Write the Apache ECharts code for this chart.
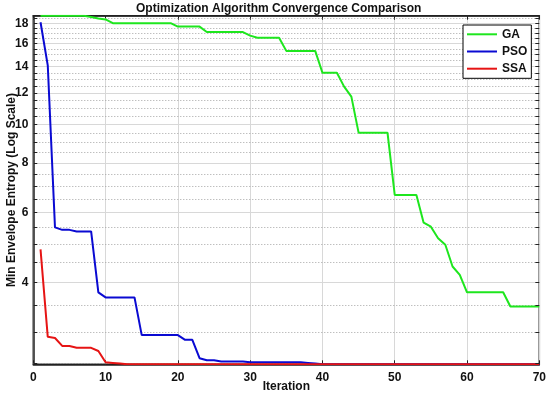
<!DOCTYPE html>
<html><head><meta charset="utf-8">
<script src="https://cdn.jsdelivr.net/npm/echarts@6/dist/echarts.min.js"></script>
<style>html,body{margin:0;padding:0;background:#fff}#c{width:550px;height:396px}</style>
</head><body><div id="c"></div>
<script>
const seriesNames = ['GA', 'PSO', 'SSA'];
const gaValues = [18.8,18.8,18.8,18.8,18.8,18.8,18.8,18.65,18.5,18.4,
  18.0,18.0,18.0,18.0,18.0,18.0,18.0,18.0,18.0,17.65,
  17.65,17.65,17.65,17.1,17.1,17.1,17.1,17.1,17.1,16.75,
  16.55,16.55,16.55,16.55,15.33,15.33,15.33,15.33,15.33,13.5,
  13.5,13.5,12.46,11.76,9.54,9.54,9.54,9.54,9.54,6.65,
  6.65,6.65,6.65,5.66,5.53,5.17,4.98,4.39,4.18,3.78,
  3.78,3.78,3.78,3.78,3.78,3.48,3.48,3.48,3.48,3.48];
const psoValues = [18.1,14.1,5.51,5.43,5.43,5.38,5.38,5.38,3.78,3.67,
  3.67,3.67,3.67,3.67,2.95,2.95,2.95,2.95,2.95,2.95,
  2.87,2.87,2.58,2.55,2.55,2.53,2.53,2.53,2.53,2.52,
  2.52,2.52,2.52,2.52,2.52,2.52,2.52,2.51,2.50,2.49,
  2.49,2.49,2.49,2.49,2.49,2.49,2.49,2.49,2.49,2.49,
  2.49,2.49,2.49,2.49,2.49,2.49,2.49,2.49,2.49,2.49,
  2.49,2.49,2.49,2.49,2.49,2.49,2.49,2.49,2.49,2.49];
const ssaValues = [4.85,2.92,2.90,2.77,2.77,2.74,2.74,2.74,2.69,2.52,
  2.51,2.50,2.49,2.49,2.49,2.49,2.49,2.49,2.49,2.49,
  2.49,2.49,2.49,2.49,2.49,2.49,2.49,2.49,2.49,2.49,
  2.49,2.49,2.49,2.49,2.49,2.49,2.49,2.49,2.49,2.49,
  2.49,2.49,2.49,2.49,2.49,2.49,2.49,2.49,2.49,2.49,
  2.49,2.49,2.49,2.49,2.49,2.49,2.49,2.49,2.49,2.49,
  2.49,2.49,2.49,2.49,2.49,2.49,2.49,2.49,2.49,2.49];
const xRange = [0, 70];
const xStep = 10;
const yRange = [2.49, 18.8];
const yMajorTicks = [4, 6, 8, 10, 12, 14, 16, 18];
const yMinorTicks = [2.5, 3, 3.5, 4.5, 5, 5.5, 6.5, 7, 7.5, 8.5, 9, 9.5, 10.5, 11, 11.5,
  12.5, 13, 13.5, 14.5, 15, 15.5, 16.5, 17, 17.5, 18.5];

const FONT = 'Liberation Sans, Arial, Helvetica, sans-serif';
const colors = ['#1ee61e', '#0a0ad2', '#e61414'];
const toPairs = arr => arr.map((v, i) => [i + 1, v]);

const gridMarks = [];
yMinorTicks.forEach(v => gridMarks.push({
  yAxis: v, lineStyle: { type: [1, 2], color: '#a4a4a4', width: 1 }, label: { show: false }
}));
yMajorTicks.forEach(v => gridMarks.push({
  yAxis: v, lineStyle: { type: 'solid', color: '#d8d8d8', width: 1 },
  label: { show: true, position: 'start', distance: 5, formatter: String(v),
    fontFamily: FONT, fontWeight: 'bold', fontSize: 12, color: '#111' }
}));
const tickLen = 0.55;
const tickMarks = [];
yMajorTicks.concat(yMinorTicks).forEach(v => {
  tickMarks.push([{ coord: [xRange[0], v] }, { coord: [xRange[0] + tickLen, v] }]);
  tickMarks.push([{ coord: [xRange[1] - tickLen, v] }, { coord: [xRange[1], v] }]);
});

const chart = echarts.init(document.getElementById('c'), null, { renderer: 'canvas' });
chart.setOption({
  animation: false,
  backgroundColor: '#fff',
  title: {
    text: 'Optimization Algorithm Convergence Comparison',
    left: 136, top: 3, padding: 0,
    textStyle: { fontFamily: FONT, fontWeight: 'bold', fontSize: 12, color: '#111' }
  },
  grid: { left: 33.3, right: 10.7, top: 15.7, bottom: 31.7, show: true,
    containLabel: false, outerBoundsMode: 'none',
    borderColor: '#222', borderWidth: 1.5, backgroundColor: 'transparent' },
  legend: {
    data: seriesNames, orient: 'vertical', left: 463, top: 25,
    icon: 'rect', itemWidth: 30, itemHeight: 2, itemGap: 5.2, padding: [3.3, 4, 3.6, 4],
    borderColor: '#000', borderWidth: 1, backgroundColor: '#fff',
    textStyle: { fontFamily: FONT, fontWeight: 'bold', fontSize: 12, color: '#111' }
  },
  xAxis: [{
    type: 'value', min: xRange[0], max: xRange[1], interval: xStep,
    name: 'Iteration', nameLocation: 'middle', nameGap: 16, nameMoveOverlap: false,
    nameTextStyle: { fontFamily: FONT, fontWeight: 'bold', fontSize: 12, color: '#111' },
    axisLine: { show: true, lineStyle: { color: '#222', width: 1.5 } },
    axisTick: { show: true, inside: true, length: 4, lineStyle: { color: '#222' } },
    axisLabel: { fontFamily: FONT, fontWeight: 'bold', fontSize: 12, color: '#111', margin: 7 },
    splitLine: { show: true, lineStyle: { color: '#d8d8d8', width: 1 } }
  }, {
    type: 'value', position: 'top', min: xRange[0], max: xRange[1], interval: xStep,
    axisLine: { show: true, lineStyle: { color: '#222', width: 1.5 } },
    axisTick: { show: true, inside: true, length: 4, lineStyle: { color: '#222' } },
    axisLabel: { show: false }, splitLine: { show: false }
  }],
  yAxis: {
    type: 'log', logBase: 10, min: yRange[0], max: yRange[1],
    name: 'Min Envelope Entropy (Log Scale)', nameLocation: 'middle', nameGap: 16, nameRotate: 90,
    nameMoveOverlap: false,
    nameTextStyle: { fontFamily: FONT, fontWeight: 'bold', fontSize: 12, color: '#111' },
    axisLine: { show: true, lineStyle: { color: '#222', width: 1.5 } },
    axisTick: { show: false }, axisLabel: { show: false },
    splitLine: { show: false }, minorSplitLine: { show: false }
  },
  series: [
    { type: 'line', name: '_grid', data: [], silent: true, z: 1,
      markLine: { silent: true, symbol: 'none', z: 1, animation: false, data: gridMarks } },
    { type: 'line', name: '_ticks', data: [], silent: true, z: 4,
      markLine: { silent: true, symbol: 'none', z: 4, animation: false,
        lineStyle: { color: '#222', width: 1, type: 'solid' }, label: { show: false }, data: tickMarks } },
    { type: 'line', name: seriesNames[0], data: toPairs(gaValues), symbol: 'none', z: 3,
      color: colors[0], lineStyle: { width: 2, color: colors[0] } },
    { type: 'line', name: seriesNames[1], data: toPairs(psoValues), symbol: 'none', z: 3,
      color: colors[1], lineStyle: { width: 2, color: colors[1] } },
    { type: 'line', name: seriesNames[2], data: toPairs(ssaValues), symbol: 'none', z: 3,
      color: colors[2], lineStyle: { width: 2, color: colors[2] } }
  ]
});
</script>
</body></html>
